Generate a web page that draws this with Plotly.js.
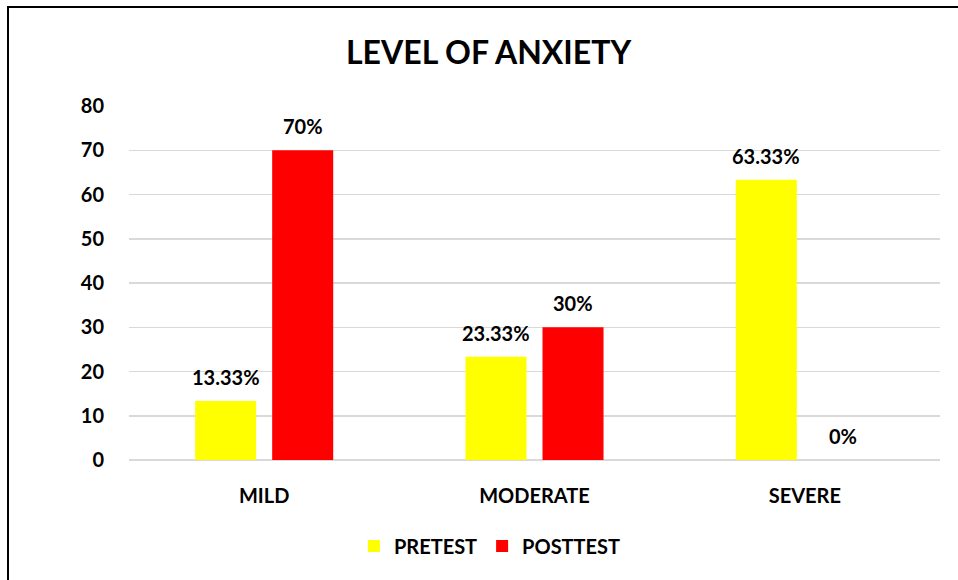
<!DOCTYPE html>
<html>
<head>
<meta charset="utf-8">
<script src="https://cdn.plot.ly/plotly-3.0.1.min.js"></script>
<style>html,body{margin:0;padding:0;background:#fff;}#chart{width:958px;height:580px;}</style>
</head>
<body>
<div id="chart"></div>
<script>
const categories = ["MILD", "MODERATE", "SEVERE"];
const pretest = [13.33, 23.33, 63.33];
const posttest = [70, 30, 0];
const pretestLabels = ["13.33%", "23.33%", "63.33%"];
const posttestLabels = ["70%", "30%", "0%"];

const FONT = "Lato, 'Open Sans', sans-serif";

const traces = [
  {type: "bar", name: "PRETEST", x: categories, y: pretest, marker: {color: "#ffff00"}},
  {type: "bar", name: "POSTTEST", x: categories, y: posttest, marker: {color: "#ff0000"}}
];

const labelFont = {family: FONT, size: 20, color: "#000", weight: "bold"};
const annotations = [];
categories.forEach((c, i) => {
  annotations.push({x: c, y: pretest[i], xref: "x", yref: "y", text: pretestLabels[i], showarrow: false,
    xshift: -38.5, yshift: 24, yanchor: "middle", xanchor: "center", font: labelFont});
  annotations.push({x: c, y: posttest[i], xref: "x", yref: "y", text: posttestLabels[i], showarrow: false,
    xshift: 38.5, yshift: 24, yanchor: "middle", xanchor: "center", font: labelFont});
});

const layout = {
  width: 958, height: 580,
  margin: {l: 129, r: 18, t: 106, b: 120},
  paper_bgcolor: "#fff", plot_bgcolor: "#fff",
  font: {family: FONT, size: 20, color: "#000", weight: "bold"},
  title: {text: "<b>LEVEL OF ANXIETY</b>", x: 0.51, xanchor: "center", y: 1 - 53/580, yanchor: "middle",
          font: {family: FONT, size: 32, color: "#000"}},
  bargap: 0.43, bargroupgap: 0.208, barmode: "group",
  xaxis: {showgrid: false, showline: false, zeroline: false, ticks: "outside", ticklen: 18, tickcolor: "rgba(0,0,0,0)",
          tickfont: {family: FONT, size: 20, color: "#000", weight: "bold"}},
  yaxis: {range: [0, 80], dtick: 10, showgrid: true, gridcolor: "#d9d9d9", gridwidth: 1.5,
          zeroline: true, zerolinecolor: "#d9d9d9", zerolinewidth: 2, showline: false,
          ticks: "outside", ticklen: 20, tickcolor: "rgba(0,0,0,0)",
          tickfont: {family: FONT, size: 20, color: "#000", weight: "bold"}},
  showlegend: true,
  legend: {orientation: "h", x: 0.445, xanchor: "center", y: (460-546)/354, yanchor: "middle",
           font: {family: FONT, size: 20, color: "#000", weight: "bold"}, itemwidth: 30, traceorder: "normal"},
  annotations: annotations,
  shapes: [{type: "rect", xref: "paper", yref: "paper",
            x0: (8-129)/811, x1: (965-129)/811, y0: (460-600)/354, y1: (460-7)/354,
            line: {color: "#000", width: 2}, fillcolor: "rgba(0,0,0,0)"}]
};

Plotly.newPlot("chart", traces, layout, {displayModeBar: false, staticPlot: true});
</script>
</body>
</html>
